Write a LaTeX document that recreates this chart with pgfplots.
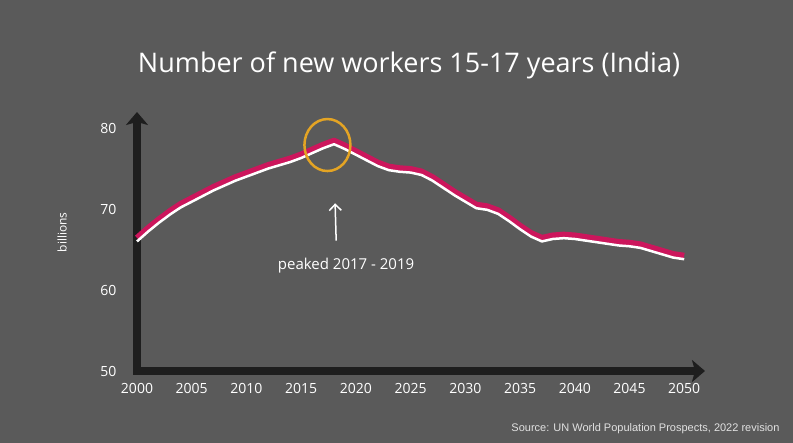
\documentclass[border=0pt]{standalone}
\usepackage{fontspec}
\setmainfont{Open Sans}
\newfontfamily\srcfont{Liberation Sans}
\usepackage{pgfplots}
\usepackage{pgfplotstable}
\pgfplotsset{compat=1.18}
\usetikzlibrary{arrows.meta}
\definecolor{bg}{RGB}{90,90,90}
\definecolor{axisc}{RGB}{30,30,30}
\definecolor{magc}{RGB}{204,22,92}
\definecolor{orangec}{RGB}{228,164,36}
\definecolor{srcc}{RGB}{225,225,225}

\pgfplotstableread{
year value
2000 66.0
2001 67.2
2002 68.3
2003 69.3
2004 70.2
2005 70.9
2006 71.6
2007 72.3
2008 72.9
2009 73.5
2010 74.0
2011 74.5
2012 75.0
2013 75.4
2014 75.8
2015 76.3
2016 76.9
2017 77.5
2018 78.0
2019 77.4
2020 76.7
2021 76.0
2022 75.3
2023 74.8
2024 74.6
2025 74.5
2026 74.2
2027 73.5
2028 72.6
2029 71.7
2030 70.9
2031 70.1
2032 69.9
2033 69.4
2034 68.5
2035 67.5
2036 66.6
2037 66.0
2038 66.3
2039 66.4
2040 66.3
2041 66.1
2042 65.9
2043 65.7
2044 65.5
2045 65.4
2046 65.2
2047 64.8
2048 64.4
2049 64.0
2050 63.8
}\workers

\begin{document}
\begin{tikzpicture}[x=1pt,y=1pt]
\useasboundingbox (0,0) rectangle (793,443);
\fill[bg] (0,0) rectangle (793,443);
\node[white, font=\fontsize{27}{30}\selectfont] at (409,378) {Number of new workers 15-17 years (India)};
\begin{axis}[
    at={(137pt,72pt)}, anchor=south west,
    scale only axis, width=568pt, height=259pt,
    xmin=2000, xmax=2051.9, ymin=50, ymax=81.98,
    axis lines*=left, clip=false,
    axis line style={draw=none},
    major tick length=0pt,
    xtick={2000,2005,2010,2015,2020,2025,2030,2035,2040,2045,2050},
    xticklabels={2000,2005,2010,2015,2020,2025,2030,2035,2040,2045,2050},
    ytick={50,60,70,80},
    yticklabels={50,60,70,80},
    tick label style={white, font=\fontsize{14}{16}\selectfont},
    xticklabel style={yshift=-9pt},
    yticklabel style={xshift=-17pt},
    ylabel={billions},
    ylabel style={white, font=\fontsize{12}{14}\selectfont, at={(axis description cs:-0.132,0.535)}, anchor=center},
  ]
  % axis arrows, drawn thick like the chalk strokes
  \draw[axisc, line width=7.5pt, -{Stealth[length=13pt,width=22pt,inset=3pt]}] ([xshift=-3.75pt]rel axis cs:0,0) -- (rel axis cs:1,0);
  \draw[axisc, line width=7.5pt, -{Stealth[length=13pt,width=22pt,inset=3pt]}] ([yshift=-3.75pt]rel axis cs:0,0) -- (rel axis cs:0,1);
  \addplot[magc, line width=6pt, yshift=3.5pt, line join=round] table[x=year, y=value] {\workers};
  \addplot[white, line width=2.5pt, line join=round] table[x=year, y=value] {\workers};
  \draw[orangec, line width=2.5pt] (axis cs:2017.4,77.9) ellipse [x radius=23pt, y radius=26pt];
  \draw[white, line width=1.5pt, -{Straight Barb[length=6pt,width=12pt]}] (axis cs:2018.2,66.1) -- (axis cs:2018.1,70.7);
  \node[white, font=\fontsize{15}{17}\selectfont] at (axis cs:2019.1,63.0) {peaked 2017 - 2019};
\end{axis}
\node[srcc, font=\srcfont\fontsize{11}{13}\selectfont, anchor=base east] at (783,11) {Source: UN World Population Prospects, 2022 revision};
\end{tikzpicture}
\end{document}
